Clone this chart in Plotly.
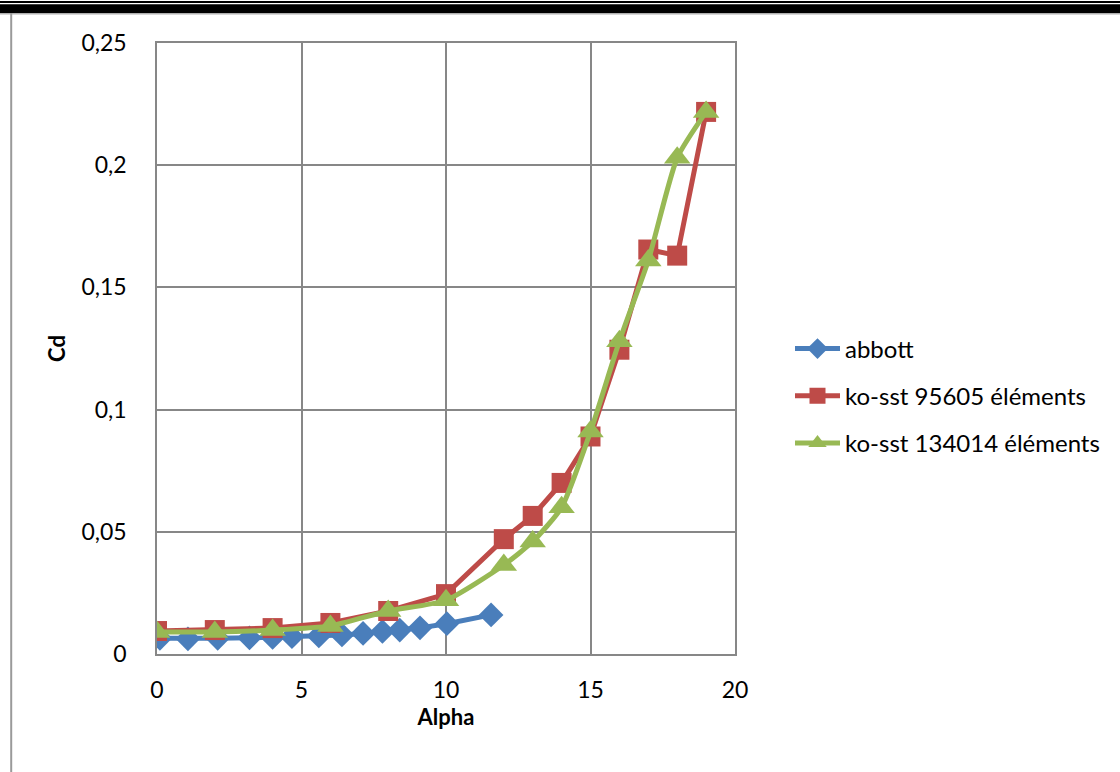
import plotly.graph_objects as go

# Drag coefficient vs angle of attack
alpha_abbott = [0.1, 1.07, 2.1, 3.2, 4.0, 4.67, 5.6, 6.4, 7.13, 7.8, 8.4, 9.1, 10.03, 11.56]
cd_abbott = [0.0064, 0.0062, 0.0064, 0.0066, 0.0068, 0.0071, 0.0074, 0.0078, 0.0084, 0.0092, 0.0098, 0.0107, 0.0124, 0.0160]

alpha_sst = [0, 2, 4, 6, 8, 10, 12, 13, 14, 15, 16, 17, 18, 19]
cd_95605 = [0.0094, 0.0098, 0.0106, 0.0127, 0.0176, 0.0245, 0.0470, 0.0565, 0.0700, 0.0890, 0.1245, 0.1655, 0.1630, 0.2218]
cd_134014 = [0.0090, 0.0090, 0.0098, 0.0115, 0.0176, 0.0220, 0.0364, 0.0460, 0.0600, 0.0910, 0.1280, 0.1610, 0.2030, 0.2218]

x_ticks = [0, 5, 10, 15, 20]
y_ticks = [0, 0.05, 0.1, 0.15, 0.2, 0.25]
y_tick_text = ["0", "0,05", "0,1", "0,15", "0,2", "0,25"]

BLUE = "#4A7EBB"
RED = "#BE4B48"
GREEN = "#98B954"
GRID = "#878787"
FONT = "Lato"
FS = 23

# plot area in pixels
W, H = 1120, 772
L, R, T, B = 157, 735, 43, 654
pw, ph = R - L, B - T


def px(x):
    return (x - L) / pw


def py(y):
    return (B - y) / ph


fig = go.Figure()
fig.add_trace(go.Scatter(
    x=alpha_abbott, y=cd_abbott, name="abbott", mode="lines+markers",
    legendgroup="a",
    line=dict(color=BLUE, width=5),
    marker=dict(symbol="diamond", size=19, color=BLUE),
))
fig.add_trace(go.Scatter(
    x=alpha_sst, y=cd_95605, name="ko-sst 95605 éléments", mode="lines+markers",
    legendgroup="b",
    line=dict(color=RED, width=5),
    marker=dict(symbol="square", size=20, color=RED),
))
fig.add_trace(go.Scatter(
    x=alpha_sst, y=cd_134014, name="ko-sst 134014 éléments", mode="lines+markers",
    legendgroup="c",
    line=dict(color=GREEN, width=5, shape="spline", smoothing=0.6),
    marker=dict(symbol="triangle-up", size=23, color=GREEN),
))

shapes = [
    # page frame: thin rule, thick bar, grey edge, left margin line
    dict(type="rect", xref="paper", yref="paper", x0=px(0), x1=px(W), y0=py(3), y1=py(1),
         fillcolor="black", line=dict(width=0), layer="above"),
    dict(type="rect", xref="paper", yref="paper", x0=px(0), x1=px(W), y0=py(13), y1=py(4.3),
         fillcolor="black", line=dict(width=0), layer="above"),
    dict(type="line", xref="paper", yref="paper", x0=px(0), x1=px(W), y0=py(13.8), y1=py(13.8),
         line=dict(color="#b0b0b0", width=1.5)),
    dict(type="line", xref="paper", yref="paper", x0=px(11.2), x1=px(11.2), y0=py(13), y1=py(H),
         line=dict(color="#9a9a9a", width=2)),
]

fig.update_layout(
    width=W, height=H,
    margin=dict(l=L, r=W - R, t=T, b=H - B),
    paper_bgcolor="white", plot_bgcolor="white",
    separators=", ",
    font=dict(family=FONT, size=FS, color="black"),
    showlegend=True,
    legend=dict(x=px(790), y=py(396), xanchor="left", yanchor="middle",
                font=dict(family=FONT, size=FS + 1, color="black"),
                itemwidth=45,
                tracegroupgap=13, bgcolor="rgba(0,0,0,0)"),
    shapes=shapes,
    xaxis=dict(
        range=[0, 20], tickvals=x_ticks, showgrid=True, gridcolor=GRID, gridwidth=1.5,
        zeroline=False, showline=True, linecolor=GRID, linewidth=1.5, mirror=True,
        ticks="", ticklabelstandoff=15,
        title=dict(text="<b>Alpha</b>", font=dict(family=FONT, size=FS - 1), standoff=0),
    ),
    yaxis=dict(
        range=[0, 0.25], tickvals=y_ticks, ticktext=y_tick_text, showgrid=True,
        gridcolor=GRID, gridwidth=1.5, zeroline=False, showline=True, linecolor=GRID,
        linewidth=1.5, mirror=True, ticks="", ticklabelstandoff=24,
        title=dict(text="<b>Cd</b>", font=dict(family=FONT, size=FS - 1), standoff=10),
    ),
)

fig.write_html("out.html")
